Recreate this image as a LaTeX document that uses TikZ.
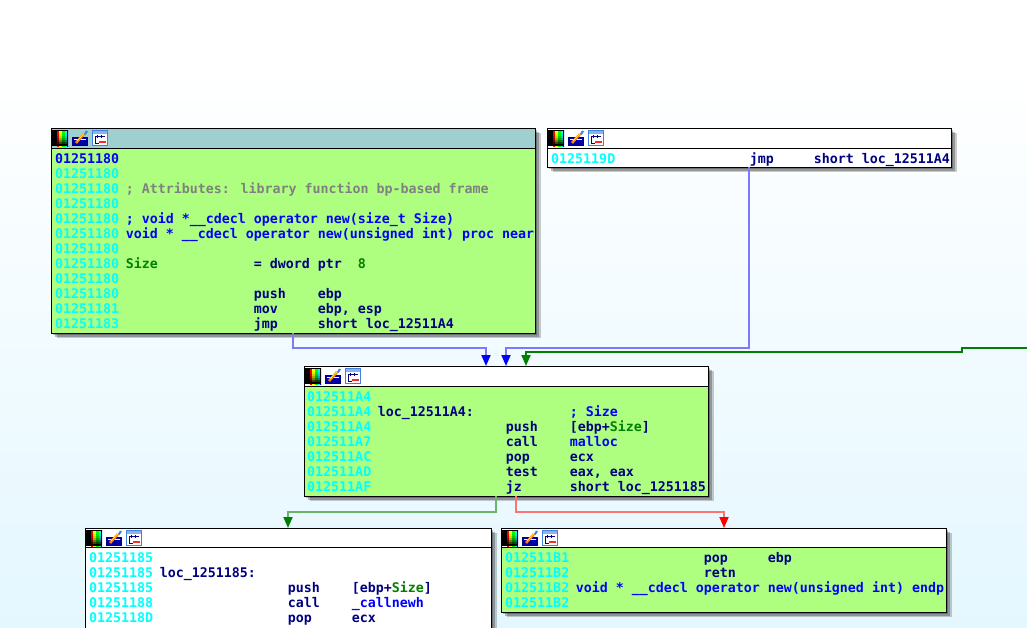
\documentclass[tikz,border=0pt]{standalone}
\usepackage{fontspec}
\setmainfont{DejaVu Sans Mono}[Scale=1.0]
\usetikzlibrary{arrows.meta, positioning, shadows, calc}
\definecolor{idagreen}{HTML}{AEFF80}
\definecolor{idatitle}{HTML}{A0CFCF}
\definecolor{idaaddr}{HTML}{00FFFF}
\definecolor{idanavy}{HTML}{000080}
\definecolor{idablue}{HTML}{0000FF}
\definecolor{idagray}{HTML}{808080}
\definecolor{idaname}{HTML}{008000}
\definecolor{bgtop}{HTML}{FFFFFF}
\definecolor{bgbottom}{HTML}{E4F7FF}
\definecolor{iconblue}{HTML}{4080E0}
\pgfdeclarehorizontalshading{rainbow}{100bp}{color(25bp)=(magenta); color(33bp)=(red); color(42bp)=(yellow); color(50bp)=(green); color(58bp)=(cyan); color(67bp)=(blue); color(75bp)=(blue!70!magenta)}
\newcommand{\codefont}{\fontsize{13.3}{15}\selectfont\bfseries\lineskiplimit-6pt\relax}
\tikzset{
  asmblock/.style={rectangle, draw=black, line width=.9pt, anchor=north west, inner sep=0pt, outer sep=0pt,
                   drop shadow={shadow xshift=2pt, shadow yshift=-2pt, fill=black, opacity=.25},
                   drop shadow={shadow xshift=4pt, shadow yshift=-4pt, fill=black, opacity=.25},
                   drop shadow={shadow xshift=6pt, shadow yshift=-5pt, fill=black, opacity=.2}},
  titlebar/.style={rectangle, draw=black, line width=.9pt, anchor=north west, inner sep=0pt, outer sep=0pt, minimum height=20pt},
  codetext/.style={anchor=north west, inner sep=0pt, align=left, text=idanavy, font=\codefont},
  blueedge/.style={line width=1.8pt, draw=blue!52, -{Triangle[length=11pt, width=9pt, color=idablue, fill=idablue]}},
  greenedge/.style={line width=1.8pt, draw=idaname!58, -{Triangle[length=11pt, width=9pt, color=idaname, fill=idaname]}},
  darkedge/.style={line width=2pt, draw=idaname, -{Triangle[length=11pt, width=9pt, color=idaname, fill=idaname]}},
  rededge/.style={line width=1.8pt, draw=red!55, -{Triangle[length=11pt, width=9pt, color=red, fill=red]}},
}
\newcommand{\pad}[1]{\hspace*{\dimexpr#1\dimexpr 8pt\relax\relax}}
\newcommand{\addr}[1]{\textcolor{idaaddr}{#1}\hspace*{-1.5pt}}
\newcommand{\fn}[1]{\textcolor{idablue}{#1}}
\newcommand{\nm}[1]{\textcolor{idaname}{#1}}
% the three small buttons of a title bar
\newcommand{\hdricons}[1]{
  \begin{scope}[shift={(#1.north west)}]
    \fill[shading=rainbow, shading angle=0] (1,2) rectangle (17,18);
    \foreach \r [evaluate=\r as \o using (\r/7)^2] in {0,...,7}
      \fill[black, opacity=\o] (1,2+2*\r) rectangle (17,4+2*\r);
    \draw[black, line width=1pt] (1.5,2.5) rectangle (16.5,17.5);
    \draw[idanavy, fill=blue!65!black, line width=1pt] (21.5,9.5) rectangle (36.5,17.5);
    \draw[white, line width=.8pt] (23,11) -- (35,11);
    \draw[orange, line width=2.6pt] (25,15) -- (33,6);
    \draw[yellow!80!white, line width=.7pt] (26,13) -- (33,5.5);
    \fill[iconblue] (33,6) -- (35,2.5) -- (37,3.5) -- (34.5,7) -- cycle;
    \fill[white] (41.5,2.5) rectangle (56.5,17.5);
    \fill[iconblue!60] (42,3) rectangle (56,6);
    \draw[iconblue, line width=1pt] (41.5,2.5) rectangle (56.5,17.5);
    \draw[idanavy, line width=.8pt] (44,8) -- (54,8) (46,6.5) -- (46,10) (50,6.5) -- (50,10) (44,8) -- (44,15) -- (48,15);
    \fill[red!85] (48,12.5) rectangle (55,15);
  \end{scope}
}
\begin{document}
\begin{tikzpicture}[x=1pt, y=-1pt]
  \useasboundingbox (0,0) rectangle (1027,627);
  \clip (0,0) rectangle (1027,627);
  \shade[top color=bgtop, bottom color=bgbottom] (0,70) rectangle (1027,627);

  % basic blocks
  \node (blockA) [asmblock, fill=idagreen, minimum width=484pt, minimum height=205pt] at (51,128) {};
  \node (blockB) [asmblock, fill=white, minimum width=404pt, minimum height=39pt] at (547,128) {};
  \node (blockC) [asmblock, fill=idagreen, minimum width=404pt, minimum height=130pt] at (304,366) {};
  \node (blockD) [asmblock, fill=white, minimum width=406pt, minimum height=120pt] at (85,528) {};
  \node (blockE) [asmblock, fill=idagreen, minimum width=445pt, minimum height=84pt] at (501,528) {};

  \node (titleA) [titlebar, fill=idatitle, minimum width=484pt] at (blockA.north west) {};
  \node (titleB) [titlebar, fill=white, minimum width=404pt] at (blockB.north west) {};
  \node (titleC) [titlebar, fill=white, minimum width=404pt] at (blockC.north west) {};
  \node (titleD) [titlebar, fill=white, minimum width=406pt, minimum height=19pt] at (blockD.north west) {};
  \node (titleE) [titlebar, fill=white, minimum width=445pt, minimum height=19pt] at (blockE.north west) {};

  \hdricons{blockA}
  \hdricons{blockB}
  \hdricons{blockC}
  \hdricons{blockD}
  \hdricons{blockE}

  \node (codeA) [codetext] at (55,153) {%
    \textcolor{idablue}{01251180}\\
    \addr{01251180}\\
    \addr{01251180}\pad{1}\textcolor{idagray}{; Attributes: library function bp-based frame}\\
    \addr{01251180}\\
    \addr{01251180}\pad{1}\fn{; void *\_\_cdecl operator new(size\_t Size)}\\
    \addr{01251180}\pad{1}\fn{void * \_\_cdecl operator new(unsigned int) proc near}\\
    \addr{01251180}\\
    \addr{01251180}\pad{1}\nm{Size}\pad{12}= dword ptr\pad{2}\nm{8}\\
    \addr{01251180}\\
    \addr{01251180}\pad{17}push\pad{4}ebp\\
    \addr{01251181}\pad{17}mov\pad{5}ebp, esp\\
    \addr{01251183}\pad{17}jmp\pad{5}short loc\_12511A4};
  \node (codeB) [codetext] at (551,152) {%
    \addr{0125119D}\pad{17}jmp\pad{5}short loc\_12511A4};
  \node (codeC) [codetext] at (307,391) {%
    \addr{012511A4}\\
    \addr{012511A4}\pad{1}loc\_12511A4:\pad{12}\fn{; Size}\\
    \addr{012511A4}\pad{17}push\pad{4}[ebp+\nm{Size}]\\
    \addr{012511A7}\pad{17}call\pad{4}\fn{malloc}\\
    \addr{012511AC}\pad{17}pop\pad{5}ecx\\
    \addr{012511AD}\pad{17}test\pad{4}eax, eax\\
    \addr{012511AF}\pad{17}jz\pad{6}short loc\_1251185};
  \node (codeD) [codetext] at (89,552) {%
    \addr{01251185}\\
    \addr{01251185}\pad{1}loc\_1251185:\\
    \addr{01251185}\pad{17}push\pad{4}[ebp+\nm{Size}]\\
    \addr{01251188}\pad{17}call\pad{4}\fn{\_callnewh}\\
    \addr{0125118D}\pad{17}pop\pad{5}ecx};
  \node (codeE) [codetext] at (505,552) {%
    \addr{012511B1}\pad{17}pop\pad{5}ebp\\
    \addr{012511B2}\pad{17}retn\\
    \addr{012511B2}\pad{1}\fn{void * \_\_cdecl operator new(unsigned int) endp}\\
    \addr{012511B2}};

  % connector ends
  \coordinate (offpage) at (1027,348);
  \coordinate (inA) at ($(blockC.north west)+(182,0)$);
  \coordinate (inB) at ($(blockC.north west)+(202,0)$);
  \coordinate (inG) at ($(blockC.north west)+(222,0)$);
  \coordinate (outA) at ($(blockA.south west)+(242,0)$);
  \coordinate (outB) at ($(blockB.south west)+(202,0)$);
  \coordinate (outG) at ($(blockC.south west)+(192,0)$);
  \coordinate (outR) at ($(blockC.south west)+(212,0)$);
  \coordinate (inD) at ($(blockD.north west)+(203,0)$);
  \coordinate (inE) at ($(blockE.north west)+(223,0)$);

  \draw[blueedge] (outA) -- ++(0,15) -| (inA);
  \draw[blueedge] (outB) -- (outB |- 0,348) -| (inB);
  \draw[darkedge] (offpage) -- (962,348) -- (962,352) -| (inG);
  \draw[greenedge] (outG) -- ++(0,16) -| (inD);
  \draw[rededge] (outR) -- ++(0,16) -| (inE);
\end{tikzpicture}
\end{document}
